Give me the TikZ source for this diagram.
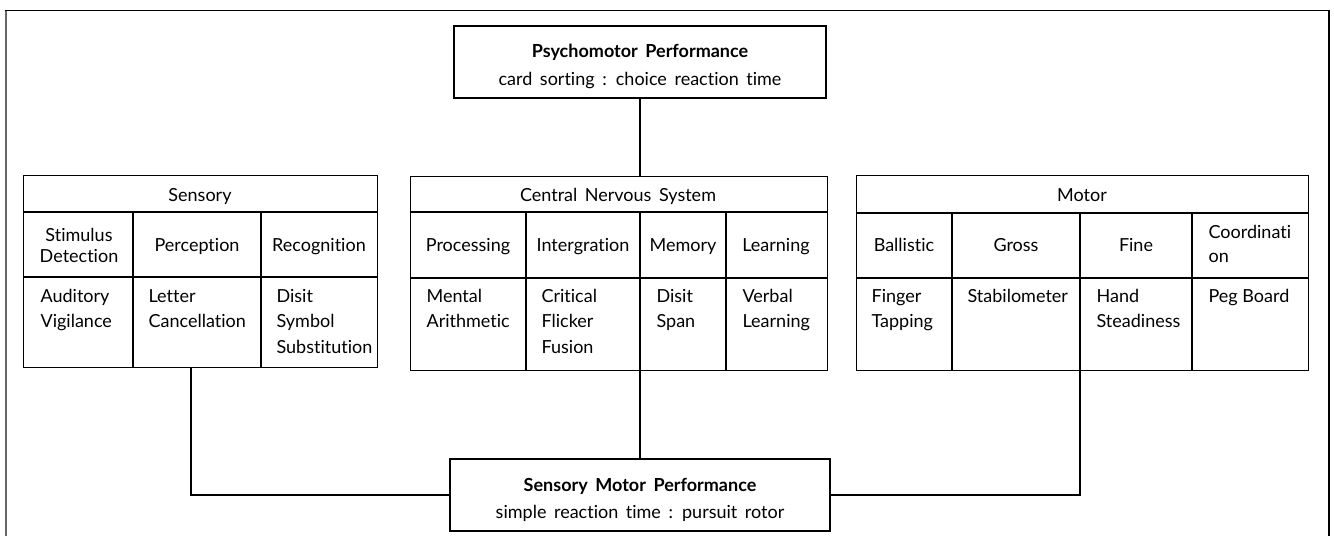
\documentclass[tikz,border=0pt]{standalone}
\usepackage{fontspec}
\setmainfont{Lato}[Ligatures={NoCommon,NoDiscretionary,NoContextual}]
\begin{document}
\begin{tikzpicture}[x=1pt,y=-1pt,line width=1.2pt,
  box/.style={draw,inner sep=0pt,anchor=north west},
  txt/.style={inner sep=0pt,font=\fontsize{18}{22}\selectfont},
  wide/.style={txt,execute at begin node={\spaceskip=0.42em\relax}},
  big/.style={draw,inner sep=0pt},
  link/.style={line width=1.2pt}]
\useasboundingbox (0,0) rectangle (1334,536);
\newcommand\cellL[5]{\foreach \t [count=\i] in {#4} {\node[txt,anchor=base west] (#1-\i) at (#2,{#3+(\i-1)*#5}) {\t};}}
\newcommand\cellC[5]{\foreach \t [count=\i] in {#4} {\node[txt,anchor=base] (#1-\i) at (#2,{#3+(\i-1)*#5}) {\t};}}
% frame
\draw[line width=2pt,black!60] (5.5,536) -- (5.5,10.5);
\draw[line width=1.2pt] (4.5,10.5) -- (1329,10.5) -- (1329,536);
% top and bottom boxes
\node[big,minimum width=372,minimum height=72] (psy) at (640,62) {};
\node[wide,anchor=base] (psy-t1) at (640,57.5) {\textbf{Psychomotor Performance}};
\node[wide,anchor=base] (psy-t2) at (640,85.5) {card sorting : choice reaction time};
\node[big,minimum width=380,minimum height=72] (smp) at (640,495) {};
\node[wide,anchor=base] (smp-t1) at (640,491.5) {\textbf{Sensory Motor Performance}};
\node[wide,anchor=base] (smp-t2) at (640,518.5) {simple reaction time : pursuit rotor};
% Sensory table
\node[box,minimum width=354,minimum height=192] (sens) at (23,175) {};
\draw (23,212) -- (377,212) (23,277) -- (377,277);
\draw (133,212) -- (133,367) (261,212) -- (261,367);
\node[wide,anchor=base] (sens-h) at (200,201) {Sensory};
\cellC{sens-s1}{79}{241}{Stimulus,Detection}{21}
\cellC{sens-s2}{197}{251}{Perception}{21}
\cellC{sens-s3}{319}{251}{Recognition}{21}
\cellL{sens-a}{40}{302}{Auditory,Vigilance}{25.5}
\cellL{sens-b}{148}{302}{Letter,Cancellation}{25.5}
\cellL{sens-c}{276}{302}{Disit,Symbol,Substitution}{25.5}
% CNS table
\node[box,minimum width=417,minimum height=194] (cns) at (410,176) {};
\draw (410,212) -- (827,212) (410,278) -- (827,278);
\draw (526,212) -- (526,370) (640,212) -- (640,370) (726,212) -- (726,370);
\node[wide,anchor=base] (cns-h) at (618,201) {Central Nervous System};
\cellC{cns-s1}{468}{251}{Processing}{21}
\cellC{cns-s2}{583}{251}{Intergration}{21}
\cellC{cns-s3}{683}{251}{Memory}{21}
\cellC{cns-s4}{776}{251}{Learning}{21}
\cellL{cns-a}{426}{302}{Mental,Arithmetic}{25.5}
\cellL{cns-b}{541}{302}{Critical,Flicker,Fusion}{25.5}
\cellL{cns-c}{656}{302}{Disit,Span}{25.5}
\cellL{cns-d}{742}{302}{Verbal,Learning}{25.5}
% Motor table
\node[box,minimum width=452,minimum height=195] (mot) at (856,175) {};
\draw (856,213) -- (1308,213) (856,278) -- (1308,278);
\draw (952,213) -- (952,370) (1080,213) -- (1080,370) (1192,213) -- (1192,370);
\node[wide,anchor=base] (mot-h) at (1082,201) {Motor};
\cellC{mot-s1}{904}{251}{Ballistic}{21}
\cellC{mot-s2}{1016}{251}{Gross}{21}
\cellC{mot-s3}{1136}{251}{Fine}{21}
\cellL{mot-s4}{1208}{238}{Coordinati,on}{24}
\cellL{mot-a}{871}{302}{Finger,Tapping}{25.5}
\cellL{mot-b}{967}{302}{Stabilometer}{25.5}
\cellL{mot-c}{1096}{302}{Hand,Steadiness}{25.5}
\cellL{mot-d}{1208}{302}{Peg Board}{25.5}
% connectors
\draw[link] (psy.south) -- (psy.south |- cns.north);
\draw[link] (smp.north) -- (smp.north |- cns.south);
\draw[link] (sens.south west) ++(168,0) |- (smp.west);
\draw[link] (mot.south west) ++(224,0) |- (smp.east);
\end{tikzpicture}
\end{document}
